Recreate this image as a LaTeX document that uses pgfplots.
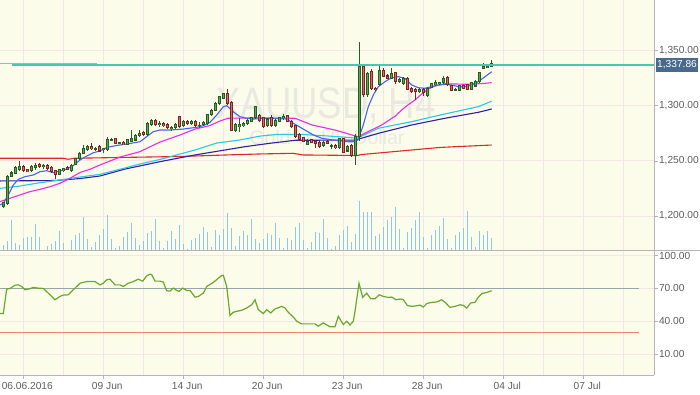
\documentclass[border=0pt]{standalone}
\usepackage{graphicx}
\usepackage{pgfplots}
\pgfplotsset{compat=1.18}
\usepackage{pgfplotstable}
\usepackage{fontspec}
\setmainfont{Liberation Sans}

\definecolor{bgc}{RGB}{251,252,234}
\definecolor{gridc}{RGB}{243,230,232}
\definecolor{axc}{RGB}{180,180,180}
\definecolor{labc}{RGB}{95,95,95}
\definecolor{wmc}{RGB}{232,234,224}
\definecolor{gdark}{RGB}{35,95,35}
\definecolor{gfill}{RGB}{95,165,85}
\definecolor{rdark}{RGB}{125,35,35}
\definecolor{rfill}{RGB}{215,110,100}
\definecolor{volc}{RGB}{142,200,232}
\definecolor{mablue}{RGB}{70,100,240}
\definecolor{mamag}{RGB}{240,40,230}
\definecolor{macyan}{RGB}{40,200,230}
\definecolor{maind}{RGB}{50,30,160}
\definecolor{mared}{RGB}{220,40,40}
\definecolor{tealc}{RGB}{72,200,172}
\definecolor{tagc}{RGB}{74,106,140}
\definecolor{rsic}{RGB}{106,168,44}
\definecolor{lvl70}{RGB}{150,165,170}
\definecolor{lvl30}{RGB}{240,130,120}

\pgfplotstableread{
i O H L C
0 1209 1213 1207 1212
1 1211 1237 1210 1236
2 1236 1241 1235 1239
3 1239 1245 1238 1244
4 1242 1250 1241 1245
7 1241 1246 1240 1245
8 1244 1248 1242 1246
10 1245 1247 1243 1246
14 1238 1243 1237 1242
15 1241 1244 1240 1243
17 1241 1247 1240 1246
18 1247 1253 1246 1252
19 1252 1258 1251 1257
20 1257 1264 1256 1261
21 1260 1264 1259 1263
23 1261 1263 1259 1261.5
25 1260 1262 1257 1261
26 1260 1272 1259 1269
27 1268.5 1271 1268 1269
29 1266 1267 1265 1266.5
31 1265 1270 1264 1269
32 1268 1278 1267 1270
33 1269 1274 1268 1273
34 1273 1278 1272 1275
36 1274 1285 1273 1284
37 1283 1288 1282 1287
39 1283 1286 1281 1284
42 1279 1282 1277 1280
43 1280 1284 1279 1283
45 1282 1287 1281 1286
47 1284 1287 1283 1286
49 1282 1285 1280 1282.5
50 1283 1286 1282 1285
51 1284 1293 1283 1292
52 1292 1297 1291 1296
53 1296 1303 1295 1302
54 1302 1309 1301 1308
55 1307 1312 1306 1311
58 1278 1284 1276 1283
59 1281 1289 1276 1283
60 1282 1285 1281 1284
61 1284 1288 1283 1287
62 1286 1290 1285 1289
63 1289 1300 1288 1299
66 1282 1289 1281 1288
68 1282 1288 1281 1287
69 1286 1290 1285 1289
70 1289 1293 1287 1290
76 1265 1270 1264 1268
80 1264 1268 1263 1267
82 1263 1265 1261 1263.5
84 1262 1271 1261 1270
86 1259 1264 1258 1263
88 1255 1274 1246 1272
89 1272 1358 1268 1336
91 1310 1331 1308 1329
94 1319 1336 1318 1332
97 1325 1334 1324 1329
99 1322 1325 1321 1324
100 1320 1326 1319 1325
104 1313 1316 1312 1315
106 1309 1317 1308 1316
107 1317 1321 1316 1320
108 1319 1323 1318 1321
109 1320 1322 1319 1321
110 1321 1327 1320 1325
113 1314 1316 1313 1314.5
114 1314 1319 1313 1318
117 1315 1322 1314 1321
118 1318 1323 1317 1322
119 1322 1331 1321 1330
120 1334 1339 1333 1336
121 1335 1338 1334 1336
122 1336 1342 1335 1338
}\upc

\pgfplotstableread{
i O H L C
5 1245 1246 1240 1241
6 1242 1243 1240 1240.5
9 1247 1248 1244 1245
11 1246 1247 1242 1243
12 1244 1245 1239 1240
13 1241 1242 1234 1238
16 1244 1245 1242 1242.5
22 1263 1266 1260 1261
24 1263 1264 1258 1259
28 1270 1271 1265 1266
30 1267 1268 1264 1264.5
35 1276 1277 1273 1274
38 1287 1288 1282 1283
40 1284 1285 1281 1282
41 1283 1284 1279 1280
44 1290 1291 1280 1281
46 1286 1287 1283 1284
48 1286 1287 1281 1282
56 1311 1315 1301 1302
57 1303 1304 1277 1278
64 1291 1293 1285 1287
65 1289 1290 1280 1281
67 1289 1292 1281 1282
71 1291 1292 1285 1286
72 1286 1287 1280 1281
73 1282 1283 1271 1272
74 1274 1275 1268 1269
75 1271 1272 1267 1268
77 1269 1270 1266 1267
78 1268 1269 1262 1266
79 1267 1268 1262 1263
81 1268 1269 1265 1266
83 1264 1265 1261 1262
85 1270 1271 1257 1258
87 1264 1265 1254 1255
90 1336 1338 1308 1310
92 1331 1333 1314 1316
93 1316 1317 1313 1315
95 1332 1334 1326 1327
96 1327 1329 1324 1325
98 1330 1331 1320 1322
101 1325 1326 1314 1315
102 1316 1317 1312 1313
103 1315 1316 1305 1313
105 1315 1316 1309 1312
111 1326 1327 1318 1319
112 1318 1319 1313 1314
115 1318 1319 1315 1316
116 1319 1320 1314 1315
}\downc

\pgfplotstableread{
i v
0 5
1 9
2 30
3 7
4 5
5 12
6 13
7 13
8 26
9 13
11 4
12 6
13 9
14 19
15 7
17 10
18 15
19 17
20 33
21 11
22 3
23 8
24 15
25 21
26 35
27 11
28 2
29 4
30 13
31 18
32 27
33 12
34 5
35 9
36 17
37 19
38 31
39 9
40 2
41 9
42 19
43 11
44 25
45 6
46 1
47 10
48 12
49 16
50 23
51 18
52 3
53 20
54 15
55 21
56 37
57 22
58 4
59 14
60 19
61 15
62 31
63 11
64 7
65 11
66 17
67 15
68 27
69 12
70 2
71 12
72 10
73 23
74 27
75 10
76 2
77 8
78 18
79 17
80 31
81 12
82 1
83 4
84 15
85 20
86 24
87 8
88 16
89 49
90 38
91 38
92 38
93 14
94 16
95 23
96 30
97 33
98 43
99 21
100 2
101 18
102 22
103 30
104 38
105 13
106 2
107 15
108 20
109 24
110 32
111 11
112 2
113 15
114 18
115 22
116 39
117 13
118 3
119 19
120 15
121 19
122 12
}\vol

\pgfplotstableread{
x y
0 1210.0
3.3 1211.5
8.3 1219.1
13.3 1228.1
18.3 1233.3
25 1235.7
33.3 1237.2
40 1240.2
46.7 1241.1
53.3 1239.3
60 1240.8
66.7 1242.6
73.3 1245.8
80 1250.8
86.7 1254.4
93.3 1257.4
100 1259.0
106.7 1262.2
116.7 1264.0
126.7 1265.3
140 1267.4
146.7 1272.0
153.3 1276.5
160 1278.0
170 1278.0
183.3 1278.9
196.7 1280.5
203.3 1282.0
210 1285.0
216.7 1291.6
223.3 1299.2
226.7 1300.1
233.3 1294.6
240 1290.1
246.7 1288.7
253.3 1288.0
266.7 1288.5
276.7 1288.5
286.7 1288.0
293.3 1284.1
305 1278.0
313.3 1273.5
322 1270.5
333 1269.0
348 1267.4
353 1267.4
358 1269.0
363.3 1282.6
368.3 1299.2
373.3 1309.8
378.3 1317.3
385 1321.9
391.7 1325.5
398.3 1326.4
405 1324.9
411.7 1318.9
418.3 1316.4
425 1315.9
431.7 1317.3
438.3 1318.9
445 1319.5
451.7 1318.9
458.3 1317.3
465 1317.3
471.7 1318.9
478.3 1321.9
485 1326.4
491.7 1330.9
}\mablue

\pgfplotstableread{
x y
0 1213.0
10 1216.1
20 1219.1
30 1222.1
40 1224.2
50 1226.6
60 1229.7
70 1234.2
80 1239.5
90 1242.4
100 1246.3
110 1249.9
120 1253.5
140 1258.4
160 1267.1
180 1273.5
195 1278.9
210 1282.1
220 1286.2
228 1288.7
260 1289.0
295 1288.7
312 1282.6
335 1278.0
352 1273.5
358 1272.0
368 1276.5
381.7 1282.6
395 1290.5
401.7 1296.2
408.3 1301.0
415 1305.3
421.7 1310.7
428.3 1315.2
435 1318.0
445 1320.0
455 1319.8
465 1319.5
475 1319.8
485 1320.4
491.7 1321.0
}\mamag

\pgfplotstableread{
x y
0 1225.1
20 1227.2
40 1230.2
60 1232.7
80 1235.4
100 1237.8
125 1243.6
140 1247.2
160 1251.3
195 1259.9
216.7 1266.2
240 1269.0
260 1272.5
278 1274.1
300 1274.1
328 1272.6
352 1271.0
357 1270.5
378.3 1279.6
411.7 1285.6
445 1292.6
478.3 1299.2
491.7 1304.2
}\macyan

\pgfplotstableread{
x y
0 1231.8
55 1232.2
80 1234.0
100 1236.3
125 1242.6
160 1249.3
195 1255.4
245 1262.9
270 1266.0
295 1268.7
355 1268.9
378.3 1275.0
411.7 1282.6
445 1288.7
478.3 1294.1
491.7 1297.1
}\maind

\pgfplotstableread{
x y
0 1252.4
63 1252.4
68 1251.5
75 1252.4
120 1253.1
180 1254.0
226.7 1255.4
260 1256.3
293 1256.9
303 1255.4
357 1254.9
362 1255.8
411.7 1259.9
440 1262.2
460 1263.1
491.7 1264.4
}\mared

\pgfplotstableread{
x y
0 47.0
3.3 47.0
6.7 69.4
10 70.0
15 73.0
18.3 73.3
21.7 71.8
25 68.8
28.3 69.4
33.3 70.9
38.3 70.3
43.3 70.0
48.3 65.7
55 59.7
60 62.7
63.3 63.9
68.3 64.2
73.3 68.8
80 74.8
86.7 76.3
95 76.3
100 73.3
103.3 74.8
106.7 77.9
110 78.5
115 73.3
120 73.3
123.3 71.8
128.3 74.8
133.3 76.3
138.3 78.5
142.7 76.7
146.7 81.5
150 83.0
151.7 82.7
155 76.7
160 76.7
163.3 75.8
166.7 67.9
170 67.6
173.3 70.3
176.7 68.2
179 67.3
182.7 70.3
186.7 68.2
190 68.2
195 62.1
198.3 62.7
203.3 65.7
206.7 71.8
213.3 75.5
218.3 79.4
221.7 81.8
223.3 82.1
226.7 71.8
230 45.2
233.3 48.2
236.7 49.1
241.7 50.0
246.7 52.1
251.7 55.1
255 59.7
258.3 50.6
263.3 47.0
266.7 50.6
270.7 47.6
275 51.2
281.7 53.6
285 52.1
288.3 48.2
293.3 43.9
296.7 40.0
301.7 37.6
315 37.6
318.3 35.5
323.3 38.5
330 34.9
335 34.9
338.3 44.5
343.3 37.0
346.7 40.0
350 36.6
353.3 40.0
355 49.1
359 74.8
362.7 61.8
366.7 65.7
370.7 60.6
375 60.6
379.3 64.2
383.3 62.7
388.3 61.8
391.7 62.1
396 59.7
400 60.3
403.3 59.7
407.3 54.5
411.7 53.6
416.7 54.2
420 54.8
423.3 53.0
426.7 56.1
431.7 57.3
436.7 57.6
441.7 59.7
445 57.3
450 52.7
455 53.6
460 55.1
463.3 54.5
466.7 52.1
470.7 56.7
475 57.3
478.3 62.1
481.7 65.2
486.7 66.4
491.7 67.9
}\rsi

\pgfplotsset{
  chartbase/.style={
    scale only axis, anchor=south west, width=654pt,
    xmin=0, xmax=654,
    axis line style={draw=none},
    xtick={23.3,103.3,183.3,263.3,343.3,423.3,503.3,583.3},
    minor xtick={63.3,143.3,223.3,303.3,383.3,463.3,543.3,623.3},
    xmajorgrids, xminorgrids, ymajorgrids,
    grid style={draw=gridc, line width=0.8pt},
    minor grid style={draw=gridc, line width=0.8pt},
    minor tick length=0pt,
    tick align=outside,
    major tick length=4pt,
    tick style={draw=axc, line width=0.6pt},
    ytick pos=right, yticklabel pos=right,
    tick label style={font=\fontsize{10.2}{12}\selectfont, text=labc},
    yticklabel style={xshift=-2.5pt, /pgf/number format/.cd, fixed, fixed zerofill, precision=2, 1000 sep={,}, assume math mode=true},
    clip=true,
  },
  candle/.style={draw=none, mark=none, forget plot, error bars/.cd, y dir=both, y explicit, error mark=none}
}

\begin{document}
\begin{tikzpicture}[x=1pt,y=1pt]
\useasboundingbox (0,0) rectangle (700,394);
\fill[white] (0,0) rectangle (700,394);
\fill[bgc] (0,19) rectangle (654,394);
\node[text=wmc, font=\fontsize{44}{48}\selectfont, inner sep=0pt] at (326,288) {\scalebox{0.83}[1]{XAUUSD, H4}};
\node[text=wmc, font=\fontsize{19.5}{22}\selectfont, inner sep=0pt] at (327,256) {Gold vs US Dollar};

% main price panel
\begin{axis}[chartbase, at={(0pt,144pt)}, height=250pt,
  ymin=1169.15, ymax=1396.0,
  ytick={1200,1250,1300,1350},
  xticklabels={}, xtick style={draw=none}]
\addplot[draw=mared, line width=1.1pt] table {\mared};
\addplot[draw=maind, line width=1.1pt] table {\maind};
\addplot[draw=macyan, line width=1.1pt] table {\macyan};
\addplot[draw=mamag, line width=1.1pt] table {\mamag};
\addplot[draw=mablue, line width=1.1pt] table {\mablue};
% wicks
\addplot[candle, error bar style={draw=gdark, line width=0.9pt}]
  table[x expr={3.3+4*\thisrow{i}}, y expr={(\thisrow{H}+\thisrow{L})/2}, y error expr={(\thisrow{H}-\thisrow{L})/2}] {\upc};
\addplot[candle, error bar style={draw=rdark, line width=0.9pt}]
  table[x expr={3.3+4*\thisrow{i}}, y expr={(\thisrow{H}+\thisrow{L})/2}, y error expr={(\thisrow{H}-\thisrow{L})/2}] {\downc};
% bodies
\addplot[candle, error bar style={draw=gdark, line width=3.3pt}]
  table[x expr={3.3+4*\thisrow{i}}, y expr={(\thisrow{O}+\thisrow{C})/2}, y error expr={abs(\thisrow{C}-\thisrow{O})/2+0.5}] {\upc};
\addplot[candle, error bar style={draw=gfill, line width=1.5pt}]
  table[x expr={3.3+4*\thisrow{i}}, y expr={(\thisrow{O}+\thisrow{C})/2}, y error expr={max(abs(\thisrow{C}-\thisrow{O})/2-0.45,0)}] {\upc};
\addplot[candle, error bar style={draw=rdark, line width=3.3pt}]
  table[x expr={3.3+4*\thisrow{i}}, y expr={(\thisrow{O}+\thisrow{C})/2}, y error expr={abs(\thisrow{C}-\thisrow{O})/2+0.5}] {\downc};
\addplot[candle, error bar style={draw=rfill, line width=1.5pt}]
  table[x expr={3.3+4*\thisrow{i}}, y expr={(\thisrow{O}+\thisrow{C})/2}, y error expr={max(abs(\thisrow{C}-\thisrow{O})/2-0.45,0)}] {\downc};
% horizontal price lines
\addplot[draw={rgb,255:red,160;green,180;blue,200}, line width=0.8pt] coordinates {(0,1338.6) (97,1338.6)};
\addplot[draw=tealc, line width=2.4pt] coordinates {(12,1337.2) (654,1337.2)};
\end{axis}

% volume overlay
\begin{axis}[scale only axis, anchor=south west, at={(0pt,144pt)}, width=654pt, height=250pt,
  xmin=0, xmax=654, ymin=0, ymax=250, hide axis]
\addplot[ycomb, draw=volc, line width=1.3pt, mark=none] table[x expr={3.3+4*\thisrow{i}}, y=v] {\vol};
\end{axis}

% RSI panel
\begin{axis}[chartbase, at={(0pt,19pt)}, height=125pt,
  ymin=-9.2, ymax=105.2,
  ytick={10,40,70,100},
  xtick pos=bottom,
  xticklabels={06.06.2016,09 Jun,14 Jun,20 Jun,23 Jun,28 Jun,04 Jul,07 Jul},
  xticklabel style={xshift=4pt}]
\addplot[draw=lvl70, line width=0.9pt] coordinates {(0,70) (639,70)};
\addplot[draw=lvl30, line width=0.9pt] coordinates {(0,30) (639,30)};
\addplot[draw=rsic, line width=1.2pt] table {\rsi};
\end{axis}

% frame lines
\draw[axc, line width=0.8pt] (0,144) -- (700,144);
\draw[axc, line width=0.8pt] (0,19) -- (654,19);
\draw[axc, line width=0.8pt] (654,19) -- (654,394);
\node[fill=tagc, text=white, font=\fontsize{10.2}{12}\selectfont, inner xsep=1.5pt, inner ysep=2.8pt, anchor=west] at (655.5,329) {1,337.86};
\end{tikzpicture}
\end{document}
